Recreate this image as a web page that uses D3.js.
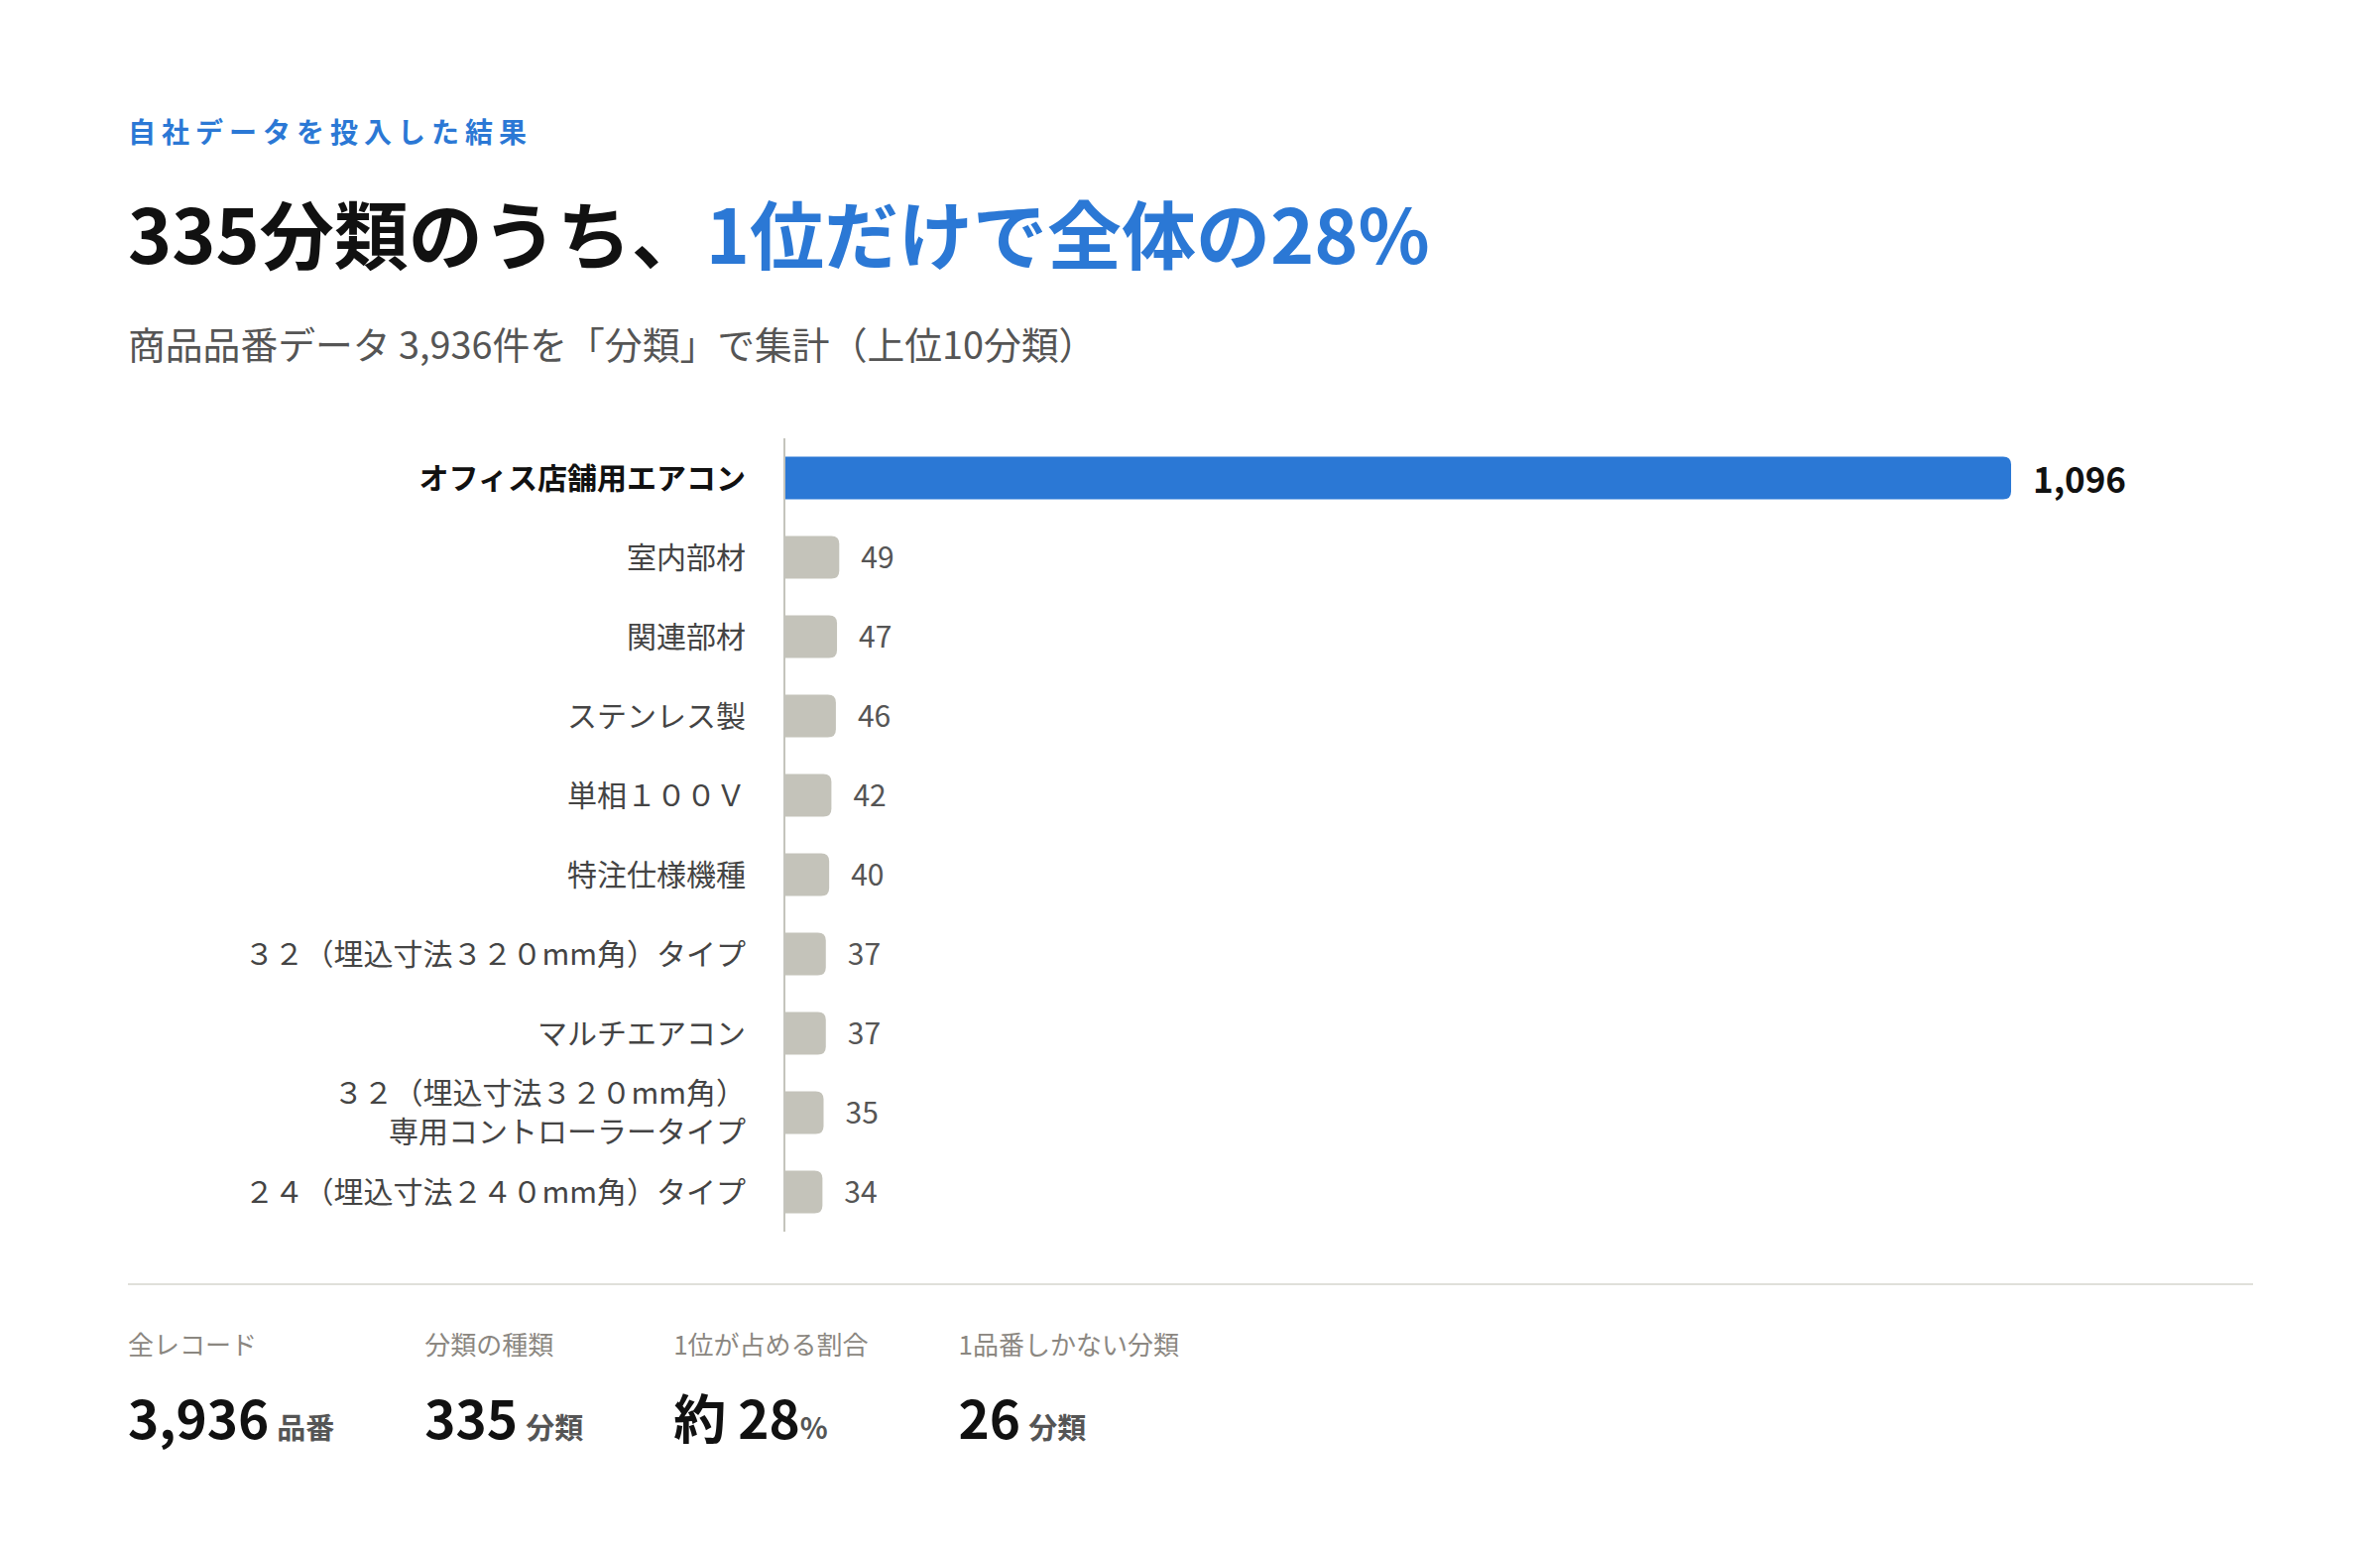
<!DOCTYPE html>
<html lang="ja">
<head>
<meta charset="UTF-8">
<title>分類別 品番数</title>
<style>
  html, body { margin: 0; padding: 0; background: #fff; }
  svg { display: block; font-family: "Noto Sans CJK JP", "Noto Sans", sans-serif; }
</style>
</head>
<body>
<svg width="2400" height="1560"></svg>
<script src="https://d3js.org/d3.v7.min.js"></script>
<script>
// データ
var categories = [
  "オフィス店舗用エアコン",
  "室内部材",
  "関連部材",
  "ステンレス製",
  "単相１００Ｖ",
  "特注仕様機種",
  "３２（埋込寸法３２０mm角）タイプ",
  "マルチエアコン",
  "３２（埋込寸法３２０mm角）\n専用コントローラータイプ",
  "２４（埋込寸法２４０mm角）タイプ"
];
var counts = [1096, 49, 47, 46, 42, 40, 37, 37, 35, 34];

var statLabels = ["全レコード", "分類の種類", "1位が占める割合", "1品番しかない分類"];
var statPrefix = ["", "", "約 ", ""];
var statValues = ["3,936", "335", "28", "26"];
var statUnits = ["品番", "分類", "%", "分類"];

var blue = "#2b78d5";
var svg = d3.select("svg");
var left = 129;

// 見出し
svg.append("text")
  .attr("x", left).attr("y", 144)
  .attr("font-size", 28).attr("font-weight", 700)
  .attr("letter-spacing", 6)
  .attr("fill", blue)
  .text("自社データを投入した結果");

var title = svg.append("text")
  .attr("x", left).attr("y", 266)
  .attr("font-size", 75).attr("font-weight", 700)
  .attr("fill", "#111");
title.append("tspan").text("335分類のうち、");
title.append("tspan").attr("fill", blue).text("1位だけで全体の28%");

svg.append("text")
  .attr("x", left).attr("y", 362)
  .attr("font-size", 37.8)
  .attr("fill", "#555")
  .text("商品品番データ 3,936件を「分類」で集計（上位10分類）");

// 棒グラフ
var x = d3.scaleLinear()
  .domain([0, d3.max(counts)])
  .range([791, 2028]);

var y = d3.scaleBand()
  .domain(d3.range(categories.length))
  .range([442, 1242])
  .paddingInner(0.46)
  .paddingOuter(0.23);

// 右側だけ角丸
function barPath(x0, x1, y0, h, r) {
  r = Math.min(r, (x1 - x0) / 2, h / 2);
  return "M" + x0 + "," + y0 +
    "H" + (x1 - r) +
    "Q" + x1 + "," + y0 + " " + x1 + "," + (y0 + r) +
    "V" + (y0 + h - r) +
    "Q" + x1 + "," + (y0 + h) + " " + (x1 - r) + "," + (y0 + h) +
    "H" + x0 + "Z";
}

var rows = svg.selectAll(".row")
  .data(counts)
  .enter()
  .append("g")
  .attr("class", "row");

rows.append("path")
  .attr("d", function(d, i) {
    return barPath(x(0), x(d), y(i), y.bandwidth(), 8);
  })
  .attr("fill", function(d, i) { return i === 0 ? blue : "#c4c3ba"; });

rows.append("text")
  .attr("x", function(d) { return x(d) + 22; })
  .attr("y", function(d, i) { return y(i) + y.bandwidth() / 2; })
  .attr("dy", function(d, i) { return i === 0 ? "0.44em" : "0.38em"; })
  .attr("font-size", function(d, i) { return i === 0 ? 35 : 30; })
  .attr("font-weight", function(d, i) { return i === 0 ? 700 : 400; })
  .attr("fill", function(d, i) { return i === 0 ? "#111" : "#555"; })
  .text(function(d) { return d3.format(",")(d); });

var labels = rows.append("text")
  .attr("text-anchor", "end")
  .attr("font-size", 30)
  .attr("font-weight", function(d, i) { return i === 0 ? 700 : 400; })
  .attr("fill", function(d, i) { return i === 0 ? "#111" : "#444"; })
  .attr("transform", function(d, i) {
    return "translate(752," + (y(i) + y.bandwidth() / 2) + ")";
  });

labels.each(function(d, i) {
  var lines = categories[i].split("\n");
  var lh = 39;
  d3.select(this).selectAll("tspan")
    .data(lines)
    .enter()
    .append("tspan")
    .attr("x", 0)
    .attr("y", function(t, j) { return (j - (lines.length - 1) / 2) * lh; })
    .attr("dy", "0.36em")
    .text(function(t) { return t; });
});

// 軸線
svg.append("line")
  .attr("x1", x(0)).attr("x2", x(0))
  .attr("y1", y.range()[0]).attr("y2", y.range()[1])
  .attr("stroke", "#c4c4bc").attr("stroke-width", 2);

// 区切り線
svg.append("line")
  .attr("x1", left).attr("x2", 2272)
  .attr("y1", 1295).attr("y2", 1295)
  .attr("stroke", "#e0e0da").attr("stroke-width", 2);

// 集計値
var cx = left;
statLabels.forEach(function(lab, i) {
  var g = svg.append("g").attr("transform", "translate(" + cx + ",0)");
  var lt = g.append("text")
    .attr("y", 1366)
    .attr("font-size", 26)
    .attr("fill", "#8b8781")
    .text(lab);
  var vt = g.append("text")
    .attr("y", 1451)
    .attr("font-weight", 700);
  if (statPrefix[i]) {
    vt.append("tspan").attr("font-size", 53).attr("fill", "#111").text(statPrefix[i]);
  }
  vt.append("tspan").attr("font-size", 53).attr("fill", "#111").text(statValues[i]);
  vt.append("tspan")
    .attr("font-size", 29).attr("fill", "#555")
    .attr("dx", statUnits[i] === "%" ? 0 : 8)
    .text(statUnits[i]);
  var w = Math.max(lt.node().getComputedTextLength(), vt.node().getBBox().width);
  cx += w + 91;
});
</script>
</body>
</html>
